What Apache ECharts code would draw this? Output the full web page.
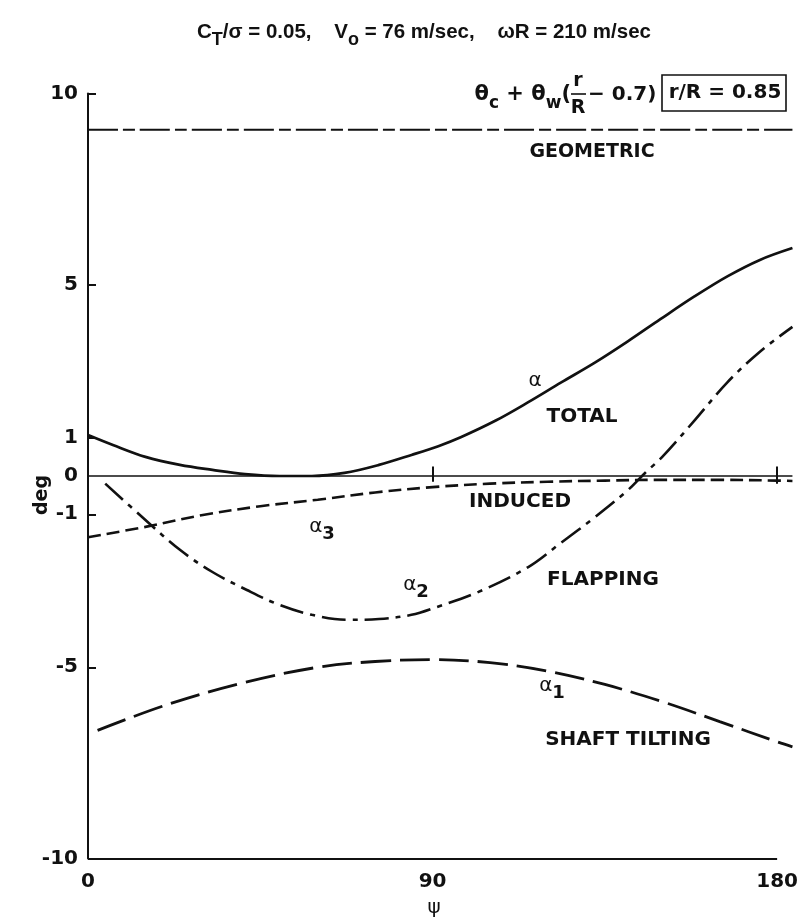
<!DOCTYPE html>
<html>
<head>
<meta charset="utf-8">
<script src="https://cdn.jsdelivr.net/npm/echarts@6/dist/echarts.min.js"></script>
<style>
  html, body { margin: 0; padding: 0; background: #fff; }
  #chart { width: 801px; height: 922px; }
</style>
</head>
<body>
<div id="chart"></div>
<script>
// Azimuth ticks (deg) and angle ticks (deg)
const psiTicks = [0, 90, 180];
const degTicks = [-10, -5, -1, 0, 1, 5, 10];

// Geometric pitch at r/R = 0.85
const geometricPsi = [0, 184];
const geometricDeg = [9.05, 9.05];

// Total angle of attack
const totalPsi = [0, 6.5, 15, 24, 32.5, 41, 50, 58.5, 67, 76, 84.5, 91.5, 97.5, 106.5, 115, 123.5, 132.5, 141, 149.5, 158.5, 167, 175.5, 184];
const totalDeg = [1.07, 0.81, 0.5, 0.29, 0.16, 0.05, 0.0, 0.0, 0.08, 0.29, 0.55, 0.78, 1.02, 1.45, 1.93, 2.44, 2.97, 3.52, 4.1, 4.7, 5.22, 5.65, 5.96];

// Induced component
const inducedPsi = [0, 15, 30, 45, 60, 75, 90, 105, 120, 135, 150, 165, 180, 184];
const inducedDeg = [-1.6, -1.33, -1.02, -0.79, -0.62, -0.43, -0.29, -0.2, -0.15, -0.12, -0.1, -0.1, -0.12, -0.13];

// Flapping component
const flappingPsi = [4.5, 15, 24, 32.5, 41.5, 50, 58.5, 67.5, 76, 84.5, 91, 102, 115, 123.5, 132.5, 141, 145.5, 150, 158.5, 167, 175.5, 184];
const flappingDeg = [-0.2, -1.15, -1.93, -2.51, -2.98, -3.37, -3.63, -3.76, -3.74, -3.63, -3.43, -3.03, -2.38, -1.75, -1.07, -0.37, 0.08, 0.5, 1.46, 2.45, 3.25, 3.9];

// Shaft tilting component
const shaftPsi = [2.5, 20, 40, 60, 75, 90, 105, 120, 135, 150, 165, 180, 184];
const shaftDeg = [-6.65, -6.0, -5.42, -5.0, -4.85, -4.8, -4.88, -5.1, -5.45, -5.9, -6.42, -6.95, -7.08];

// Zero reference line
const zeroPsi = [0, 184];
const zeroDeg = [0, 0];

function pairs(xs, ys) { return xs.map((x, i) => [x, ys[i]]); }

const FONT = '"DejaVu Sans", "Liberation Sans", Arial, sans-serif';
const HEAD_FONT = '"Liberation Sans", Arial, Helvetica, sans-serif';
const INK = '#111';

const chart = echarts.init(document.getElementById('chart'), null, { renderer: 'canvas' });

function curve(name, xs, ys, width, type) {
  return {
    name, type: 'line', data: pairs(xs, ys), showSymbol: false, symbol: 'none',
    smooth: 0.35, clip: false, z: 3,
    lineStyle: { color: INK, width, type, cap: 'butt' }
  };
}

const txt = (x, y, text, size, extra) => ({
  type: 'text', x, y, z: 10,
  style: Object.assign({
    text, fill: INK, fontFamily: FONT, fontSize: size, fontWeight: 'bold',
    align: 'center', verticalAlign: 'middle'
  }, extra || {})
});

const subRich = (size, subSize, shift, weight, family) => ({
  m: { fontSize: size, fontFamily: family || FONT, fontWeight: weight || 'bold', fill: INK, lineHeight: size + 2 * shift },
  s: { fontSize: subSize, fontFamily: family || FONT, fontWeight: 'bold', fill: INK, lineHeight: subSize, verticalAlign: 'bottom' }
});

chart.setOption({
  animation: false,
  backgroundColor: '#fff',
  // x runs 0..184 so the curves reach slightly past the 180 tick
  grid: { left: 88, right: 5.5, top: 93.5, bottom: 63.5, containLabel: false },
  xAxis: {
    type: 'value', min: 0, max: 184,
    axisLine: { show: false },
    axisTick: { show: true, inside: true, length: 7, customValues: [90, 180], lineStyle: { color: INK, width: 2 } },
    axisLabel: { customValues: psiTicks, color: INK, fontFamily: FONT, fontSize: 20, fontWeight: 'bold', margin: 13 },
    splitLine: { show: false }
  },
  yAxis: {
    type: 'value', min: -10, max: 10, interval: 5,
    axisLine: { show: true, onZero: false, lineStyle: { color: INK, width: 2 } },
    axisTick: { show: true, inside: true, length: 8, customValues: [-5, -1, 1, 5, 10], lineStyle: { color: INK, width: 2 } },
    axisLabel: { customValues: degTicks, color: INK, fontFamily: FONT, fontSize: 20, fontWeight: 'bold', margin: 10 },
    splitLine: { show: false }
  },
  series: [
    {
      name: 'zero', type: 'line', data: pairs(zeroPsi, zeroDeg), symbol: 'none', clip: false, z: 2,
      lineStyle: { color: INK, width: 1.6 },
      markLine: {
        silent: true, symbol: 'none', label: { show: false },
        lineStyle: { color: INK, width: 2, type: 'solid' },
        data: [
          // azimuth axis, ending at 180
          [{ coord: [0, -10] }, { coord: [180, -10] }],
          // small marks on the zero line
          [{ coord: [90, -0.15] }, { coord: [90, 0.25] }],
          [{ coord: [180, -0.2] }, { coord: [180, 0.25] }]
        ]
      }
    },
    curve('GEOMETRIC', geometricPsi, geometricDeg, 2, [30, 5, 12, 5]),
    curve('TOTAL', totalPsi, totalDeg, 2.7, 'solid'),
    curve('INDUCED', inducedPsi, inducedDeg, 2.6, [13, 6]),
    curve('FLAPPING', flappingPsi, flappingDeg, 2.6, [24, 7, 5, 7]),
    curve('SHAFT TILTING', shaftPsi, shaftDeg, 2.8, [30, 9])
  ],
  graphic: [
    // heading
    {
      type: 'text', x: 424, y: 32, z: 10,
      style: {
        text: '{m|C}{s|T}{m|/σ = 0.05,    V}{s|o}{m| = 76 m/sec,    ωR = 210 m/sec}',
        rich: subRich(20.5, 18, 7, 'bold', HEAD_FONT), align: 'center', verticalAlign: 'middle'
      }
    },
    // pitch expression
    {
      type: 'text', x: 571, y: 95, z: 10,
      style: { text: '{m|θ}{s|c}{m| + θ}{s|w}{m|(}', rich: subRich(21, 17, 7), align: 'right', verticalAlign: 'middle' }
    },
    txt(578, 81, 'r', 19),
    { type: 'line', z: 10, shape: { x1: 571, y1: 94, x2: 586, y2: 94 }, style: { stroke: INK, lineWidth: 1.6 } },
    txt(578, 108, 'R', 19),
    txt(588, 95, '− 0.7)', 20, { align: 'left' }),
    // radial station box
    { type: 'rect', z: 10, shape: { x: 662, y: 75, width: 124, height: 36 }, style: { fill: 'none', stroke: INK, lineWidth: 1.6 } },
    txt(725, 93, 'r/R = 0.85', 20),
    // curve annotations
    txt(592, 152, 'GEOMETRIC', 19),
    txt(535, 381, 'α', 20, { fontWeight: 'normal' }),
    txt(582, 417, 'TOTAL', 20),
    txt(520, 502, 'INDUCED', 20),
    { type: 'text', x: 322, y: 527, z: 10, style: { text: '{m|α}{s|3}', rich: subRich(20, 18, 6, 'normal'), align: 'center', verticalAlign: 'middle' } },
    { type: 'text', x: 416, y: 585, z: 10, style: { text: '{m|α}{s|2}', rich: subRich(20, 18, 6, 'normal'), align: 'center', verticalAlign: 'middle' } },
    txt(603, 580, 'FLAPPING', 20),
    { type: 'text', x: 552, y: 686, z: 10, style: { text: '{m|α}{s|1}', rich: subRich(20, 18, 6, 'normal'), align: 'center', verticalAlign: 'middle' } },
    txt(628, 740, 'SHAFT TILTING', 20),
    // axis titles
    txt(434, 908, 'ψ', 20, { fontWeight: 'normal' }),
    { type: 'text', x: 42, y: 495, rotation: Math.PI / 2, z: 10,
      style: { text: 'deg', fill: INK, fontFamily: FONT, fontSize: 19, fontWeight: 'bold', align: 'center', verticalAlign: 'middle' } }
  ]
});
</script>
</body>
</html>
